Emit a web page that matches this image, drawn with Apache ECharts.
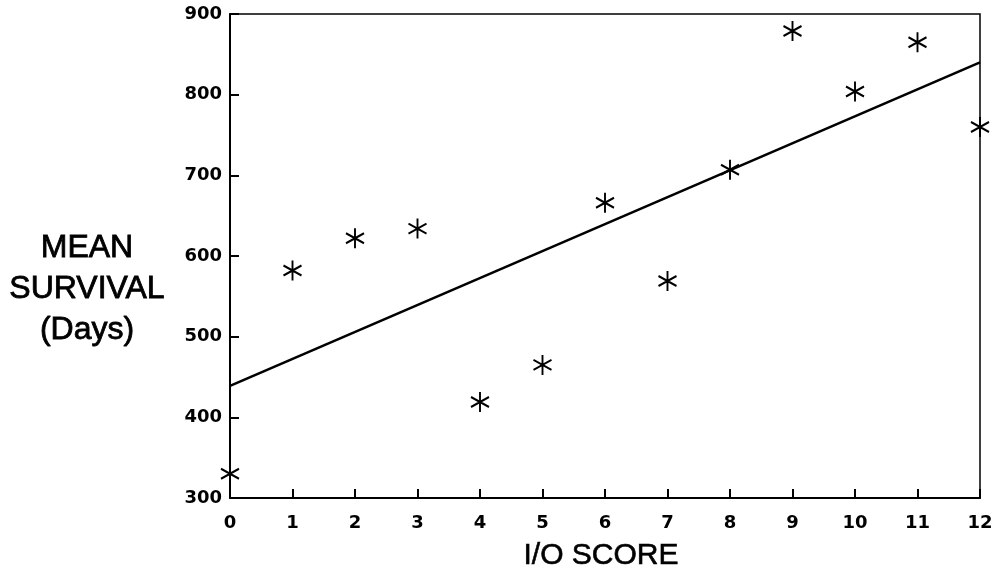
<!DOCTYPE html>
<html>
<head>
<meta charset="utf-8">
<script src="https://cdn.jsdelivr.net/npm/echarts@6/dist/echarts.min.js"></script>
<style>
html,body{margin:0;padding:0;background:#fff;}
#chart{width:997px;height:572px;}
</style>
</head>
<body>
<div id="chart"></div>
<script>
var ioScores = [0, 1, 2, 3, 4, 5, 6, 7, 8, 9, 10, 11, 12];
var meanSurvival = [330, 582, 622, 634, 419, 465, 666, 569, 707, 879, 804, 865, 760];
var fitLineX = [0, 12];
var fitLineY = [439, 840];
var yTicks = [300, 400, 500, 600, 700, 800, 900];
var xTitle = 'I/O SCORE';
var yTitle = 'MEAN\nSURVIVAL\n(Days)';

var FONT = '"Liberation Sans", Arial, Helvetica, sans-serif';
var TICKFONT = '"DejaVu Sans", "Liberation Sans", Arial, sans-serif';
var chart = echarts.init(document.getElementById('chart'));
var scatterData = ioScores.map(function (x, i) { return [x, meanSurvival[i]]; });
var lineData = fitLineX.map(function (x, i) { return [x, fitLineY[i]]; });

chart.setOption({
  backgroundColor: '#fff',
  animation: false,
  grid: {
    left: 230, right: 17, top: 14, bottom: 74,
    show: true, borderColor: '#000', borderWidth: 1.5, backgroundColor: 'transparent'
  },
  xAxis: {
    type: 'value', min: 0, max: 12, interval: 1,
    axisLine: { show: true, onZero: false, lineStyle: { color: '#000', width: 2 } },
    axisTick: { show: true, inside: true, length: 9, lineStyle: { color: '#000', width: 2 } },
    axisLabel: { margin: 16, color: '#000', fontFamily: TICKFONT, fontWeight: 'bold', fontSize: 18 },
    splitLine: { show: false }
  },
  yAxis: {
    type: 'value', min: yTicks[0], max: yTicks[yTicks.length - 1], interval: 100,
    axisLine: { show: true, onZero: false, lineStyle: { color: '#000', width: 2 } },
    axisTick: { show: true, inside: true, length: 9, lineStyle: { color: '#000', width: 2 } },
    axisLabel: { margin: 8, color: '#000', fontFamily: TICKFONT, fontWeight: 'bold', fontSize: 18 },
    splitLine: { show: false }
  },
  graphic: [
    {
      type: 'text', x: 601, y: 556,
      style: { text: xTitle, fill: '#000', stroke: '#000', lineWidth: 0.6, font: '30px ' + FONT, textAlign: 'center', textVerticalAlign: 'middle' }
    },
    {
      type: 'text', x: 87, y: 289,
      style: { text: yTitle, fill: '#000', stroke: '#000', lineWidth: 0.8, font: '32px ' + FONT, textAlign: 'center', textVerticalAlign: 'middle', lineHeight: 41 }
    }
  ],
  series: [
    {
      type: 'line', data: lineData, symbol: 'none', silent: true,
      lineStyle: { color: '#000', width: 2.6 }, z: 2
    },
    {
      type: 'scatter', data: scatterData,
      symbol: 'path://M10,0L10,20M1.34,5L18.66,15M1.34,15L18.66,5',
      symbolSize: [18, 20],
      itemStyle: { color: 'transparent', borderColor: '#000', borderWidth: 2, opacity: 1 },
      z: 3
    }
  ]
});
</script>
</body>
</html>
